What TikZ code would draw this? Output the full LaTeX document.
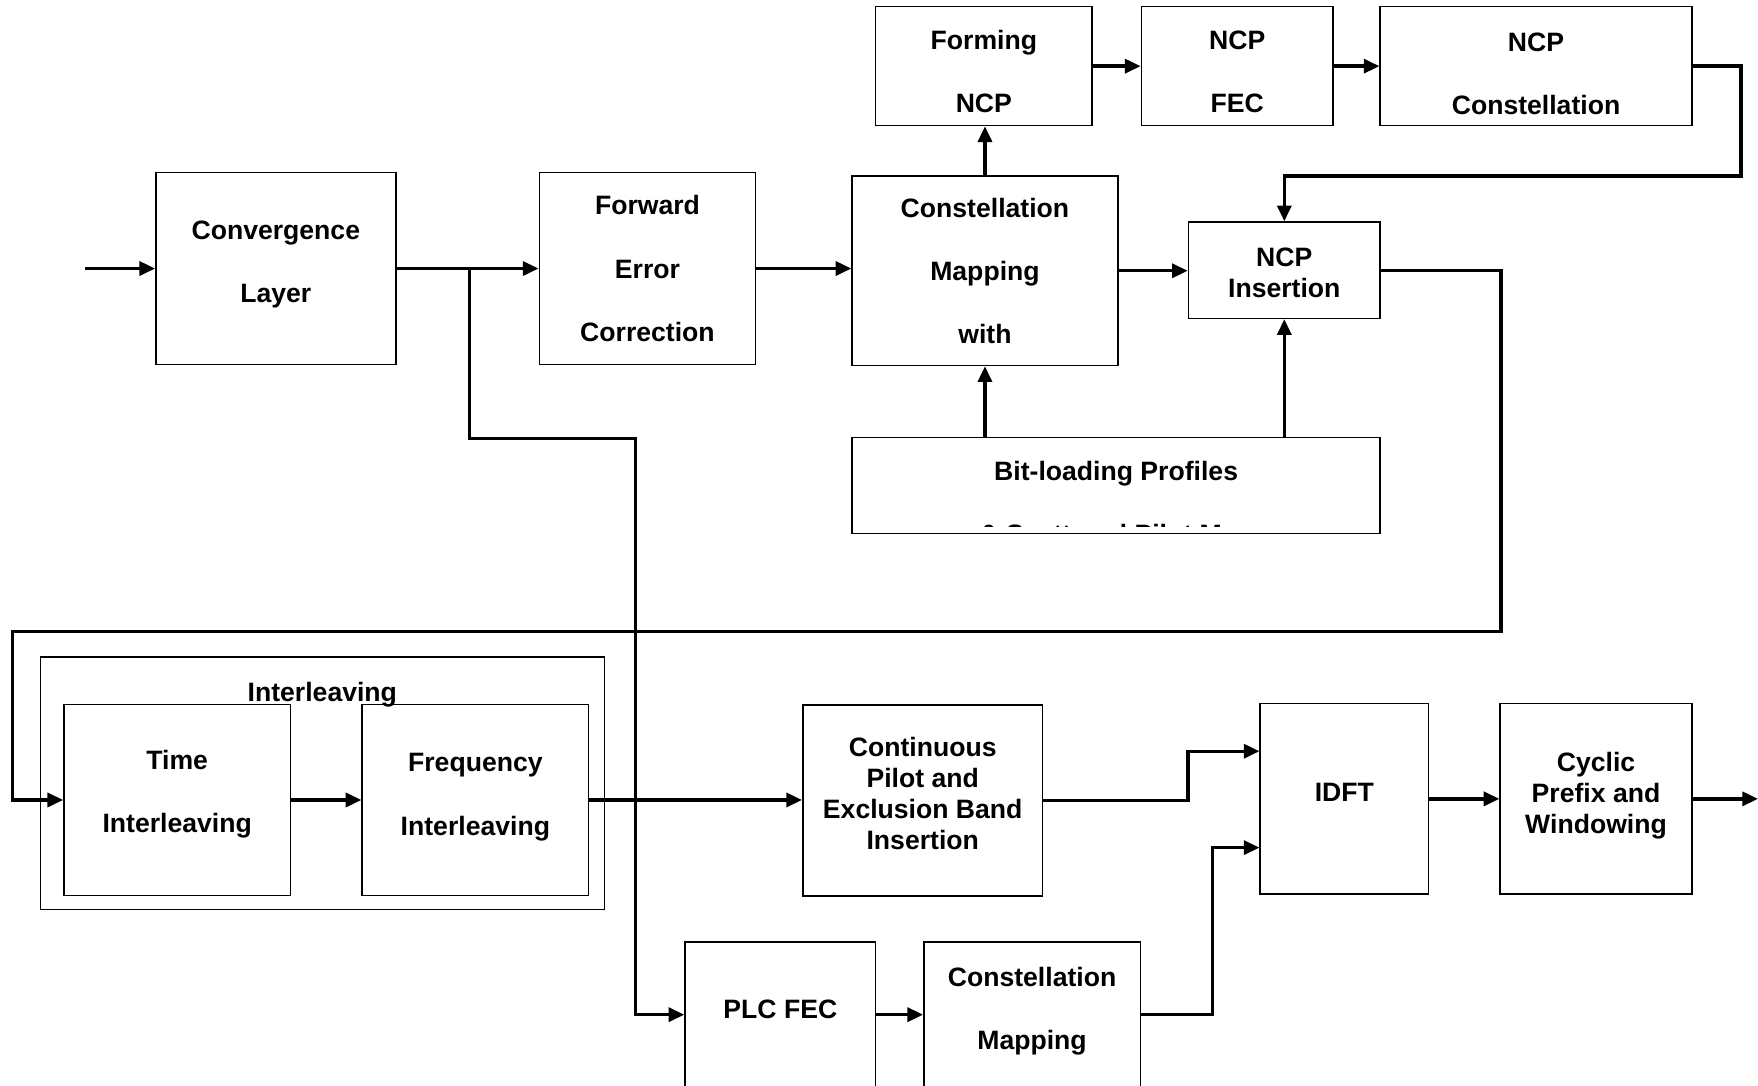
\documentclass[tikz,border=0pt]{standalone}
\usepackage{fontspec}
\setmainfont{Liberation Sans}
\usetikzlibrary{arrows.meta, calc}
\tikzset{
  every picture/.style={font=\bfseries, line width=1.7pt},
  box/.style={draw, line width=0.75pt, align=center, inner sep=2pt},
  wide/.style={font=\bfseries\fontsize{13.5}{32}\selectfont, align=center},
  tight/.style={font=\bfseries\fontsize{13.5}{15.7}\selectfont, align=center},
  arrow/.style={-{Triangle[length=2.8mm, width=2.5mm]}, line width=1.7pt},
}

\begin{document}
\begin{tikzpicture}
  \clip (0,0) rectangle (31.36,-19.36);
  % main chain
  \node[box, minimum width=4.28cm, minimum height=3.42cm,
        label={[wide, yshift=0.08cm]center:Convergence\\Layer}] (cl) at (4.92,-4.79) {};
  \node[box, wide, minimum width=3.86cm, minimum height=3.42cm] (fec) at (11.55,-4.79) {Forward\\Error\\Correction};
  \node[box, wide, minimum width=4.74cm, minimum height=3.38cm] (cmap) at (17.57,-4.83) {Constellation\\Mapping\\with};
  \node[box, minimum width=3.42cm, minimum height=1.72cm,
        label={[tight, yshift=-0.04cm]center:NCP\\Insertion}] (nins) at (22.91,-4.82) {};
  % NCP path
  \node[box, minimum width=3.86cm, minimum height=2.12cm,
        label={[wide, yshift=-0.1cm]center:Forming\\NCP}] (fncp) at (17.55,-1.18) {};
  \node[box, minimum width=3.42cm, minimum height=2.12cm,
        label={[wide, yshift=-0.1cm]center:NCP\\FEC}] (nfec) at (22.07,-1.18) {};
  \node[box, minimum width=5.56cm, minimum height=2.12cm,
        label={[wide, yshift=-0.13cm]center:NCP\\Constellation}] (ncon) at (27.40,-1.18) {};
  % profiles
  \node[box, minimum width=9.42cm, minimum height=1.72cm] (bitl) at (19.91,-8.66) {};
  \begin{scope}
    \clip ($(bitl.south west)+(0,0.14)$) rectangle (bitl.north east);
    \node[wide] (bitltxt) at (19.91,-9.01) {Bit-loading Profiles\\\& Scattered Pilot Map};
  \end{scope}
  % interleaving and the lower chain
  \node[box, minimum width=10.06cm, minimum height=4.50cm,
        label={[wide, anchor=center, yshift=-0.68cm]north:Interleaving}] (ilv) at (5.75,-13.97) {};
  \node[box, minimum width=4.04cm, minimum height=3.40cm,
        label={[wide, yshift=0.1cm]center:Time\\Interleaving}] (tint) at (3.16,-14.27) {};
  \node[box, minimum width=4.04cm, minimum height=3.40cm,
        label={[wide, yshift=0.05cm]center:Frequency\\Interleaving}] (fint) at (8.48,-14.27) {};
  \node[box, minimum width=4.28cm, minimum height=3.40cm,
        label={[tight, yshift=0.12cm]center:Continuous\\Pilot and\\Exclusion Band\\Insertion}] (cpil) at (16.46,-14.28) {};
  \node[box, minimum width=3.00cm, minimum height=3.40cm,
        label={[wide, yshift=0.12cm]center:IDFT}] (idft) at (23.98,-14.25) {};
  \node[box, minimum width=3.42cm, minimum height=3.40cm,
        label={[tight, yshift=0.06cm]center:Cyclic\\Prefix and\\Windowing}] (cyc) at (28.47,-14.25) {};
  \node[box, minimum width=3.40cm, minimum height=2.60cm,
        label={[wide, yshift=0.1cm]center:PLC FEC}] (pfec) at (13.92,-18.10) {};
  \node[box, minimum width=3.86cm, minimum height=2.60cm,
        label={[wide, yshift=0.06cm]center:Constellation\\Mapping}] (cmap2) at (18.41,-18.10) {};

  \coordinate (in) at (1.52,-4.79);
  \coordinate (out) at (31.36,-14.25);
  \coordinate (br) at (8.38,-4.79);
  \coordinate (lp) at (0.22,-11.26);
  \coordinate (bp) at (11.34,-7.82);

  \draw[arrow] (in) -- (cl);
  \foreach \a/\b in {cl/fec, fncp/nfec, nfec/ncon, tint/fint, idft/cyc, pfec/cmap2}
    \draw[arrow] (\a) -- (\b);
  \draw[arrow] (fec.east) -- (fec.east -| cmap.west);
  \draw[arrow] (cmap.east) -- (cmap.east -| nins.west);
  \draw[arrow] (cmap.north) -- (cmap.north |- fncp.south);
  \foreach \n in {cmap, nins}
    \draw[arrow] (bitl.north -| \n) -- (\n.south);
  \draw[arrow] (ncon.east) -| ++(0.86,-1.96) -| (nins.north);
  \draw[arrow] (nins.east) -- ++(2.14,0) |- (lp) |- (tint.west);
  \draw[arrow] (br) |- (bp) |- (pfec.west);
  \draw[arrow] (fint.east) -- (fint.east -| cpil.west);
  \draw[arrow] (cpil.east) -- ++(2.58,0) |- ($(idft.west)+(0,0.85)$);
  \draw[arrow] (cmap2.east) -- ++(1.28,0) |- ($(idft.west)+(0,-0.87)$);
  \draw[arrow] (cyc) -- (out);
\end{tikzpicture}
\end{document}
